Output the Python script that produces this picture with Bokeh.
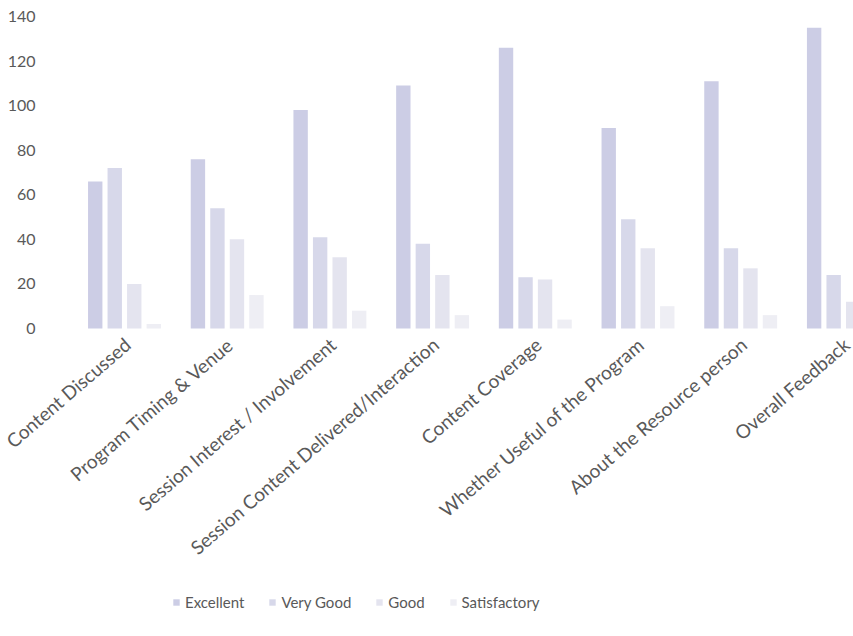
from bokeh.plotting import figure
from bokeh.models import ColumnDataSource, Range1d, Legend, LegendItem, LabelSet
from bokeh.core.properties import value
from bokeh.transform import dodge
from bokeh.embed import file_html
from bokeh.resources import INLINE

categories = ["Content Discussed", "Program Timing & Venue", "Session Interest / Involvement",
              "Session Content Delivered/Interaction", "Content Coverage",
              "Whether Useful of the Program", "About the Resource person", "Overall Feedback"]
excellent = [66, 76, 98, 109, 126, 90, 111, 135]
very_good = [72, 54, 41, 38, 23, 49, 36, 24]
good = [20, 40, 32, 24, 22, 36, 27, 12]
satisfactory = [2, 15, 8, 6, 4, 10, 6, 4]
series_names = ["Excellent", "Very Good", "Good", "Satisfactory"]
y_ticks = [0, 20, 40, 60, 80, 100, 120, 140]

src = ColumnDataSource(dict(idx=list(range(len(categories))), cat=categories,
                            base=[0] * len(categories), excellent=excellent,
                            very_good=very_good, good=good, satisfactory=satisfactory))
tick_src = ColumnDataSource(dict(y=y_ticks, label=[str(t) for t in y_ticks],
                                 sx=[35] * len(y_ticks)))

# chart area: 0 at 328px, 140 at 16px; category pitch ~102.7px, first group centred at 124px
FW, FH = 853, 630
PX_X = 102.7
PX_Y = 312 / 140
x0 = -124 / PX_X
y1 = 140 + 16 / PX_Y
y0 = -(FH - 328) / PX_Y

p = figure(frame_width=FW, frame_height=FH, output_backend="svg", toolbar_location=None,
           x_range=Range1d(x0, x0 + FW / PX_X), y_range=Range1d(y0, y1), min_border=0)
p.outline_line_color = None
p.xgrid.grid_line_color = None
p.ygrid.grid_line_color = None
p.xaxis.visible = False
p.yaxis.visible = False

cols = ["excellent", "very_good", "good", "satisfactory"]
colors = ["#cccde5", "#d7d8ea", "#e4e4ef", "#eeeef4"]
offsets = [-0.285, -0.095, 0.095, 0.285]
renderers = []
for c, col, off in zip(cols, colors, offsets):
    r = p.vbar(x=dodge("idx", off, range=p.x_range), top=c, width=0.14, source=src,
               fill_color=col, line_color=None)
    renderers.append(r)

txt = "#595959"
font = "Lato"

ylabels = LabelSet(x="sx", y="y", x_units="screen", text="label", source=tick_src,
                   text_align="right", text_baseline="middle",
                   text_font=value(font), text_font_size="16px", text_color=txt)
p.add_layout(ylabels)

xlabels = LabelSet(x="idx", y="base", text="cat", source=src, x_offset=3, y_offset=-13,
                   angle=0.71, text_align="right", text_baseline="middle",
                   text_font=value(font), text_font_size="19px", text_color=txt)
p.add_layout(xlabels)

legend = Legend(items=[LegendItem(label=n, renderers=[r]) for n, r in zip(series_names, renderers)],
                orientation="horizontal", location=(172, 19),
                label_text_font=font, label_text_font_size="15px", label_text_color=txt,
                glyph_width=8, glyph_height=8, spacing=24, border_line_color=None,
                background_fill_alpha=0)
p.add_layout(legend, "center")

open("out.html", "w").write(file_html(p, INLINE))
